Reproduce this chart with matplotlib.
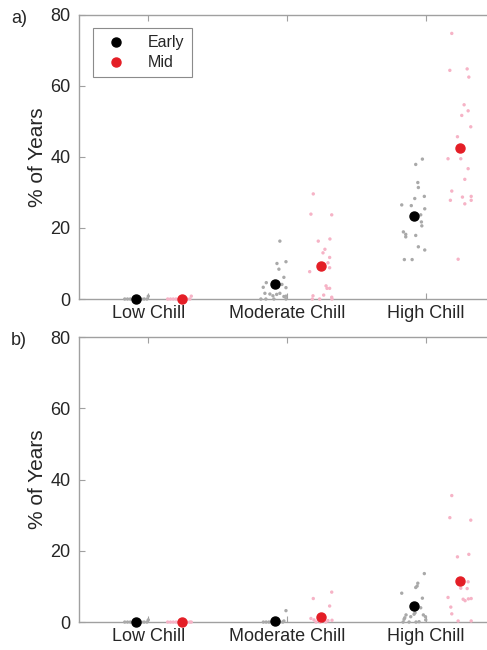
# -*- coding: utf-8 -*-
"""
plot.py
 - % of Years per chill class : Early vs Mid, two panels a) / b)
"""

import matplotlib
matplotlib.use('Agg')
import matplotlib.pyplot as plt
import numpy as np

plt.rcParams['font.family'] = ['Liberation Sans', 'DejaVu Sans']

# 1. data
categories = ['Low Chill', 'Moderate Chill', 'High Chill']
yticks = [0, 20, 40, 60, 80]

# group means (big dots)
a_mean_early = [0, 4.2, 23.3]
a_mean_mid = [0, 9.4, 42.6]
b_mean_early = [0, 0.2, 4.4]
b_mean_mid = [0, 1.5, 11.6]

# small points : values and x jitter (in category units)
a_low_early = [0, 0, 0, 0, 0, 0, 0, 0, 0, 0.8]
a_low_early_dx = [-0.17, -0.15, -0.13, -0.11, -0.09, -0.07, -0.05, -0.03, -0.01, 0.0]
a_low_mid = [0, 0, 0, 0, 0, 0, 0, 0, 0, 0.8]
a_low_mid_dx = [0.14, 0.16, 0.18, 0.20, 0.22, 0.24, 0.26, 0.28, 0.30, 0.31]

a_mod_early = [16.3, 10.5, 10.0, 8.4, 6.1, 4.6, 4.1, 3.3, 3.2, 1.6,
               1.4, 1.3, 1.6, 0.9, 0.7, 0.8, 0, 0, 0, 0]
a_mod_early_dx = [-0.051, -0.007, -0.072, -0.058, -0.022, -0.149, -0.036, -0.171, -0.007, -0.159,
                  -0.123, -0.074, -0.051, -0.101, -0.022, -0.007, -0.152, -0.188, -0.094, -0.007]
a_mod_mid = [29.6, 23.9, 23.7, 16.9, 16.3, 14.0, 13.0, 11.7, 10.2, 8.8,
             7.7, 3.7, 3.0, 3.0, 0.9, 1.1, 0.5, 0, 0, 0]
a_mod_mid_dx = [0.190, 0.173, 0.323, 0.310, 0.226, 0.274, 0.260, 0.308, 0.296, 0.308,
                0.164, 0.282, 0.289, 0.308, 0.188, 0.265, 0.323, 0.236, 0.183, 0.325]

a_high_early = [39.4, 37.9, 32.8, 31.4, 28.9, 28.3, 26.5, 26.3, 25.4, 23.7,
                21.7, 20.6, 18.9, 18.2, 17.5, 17.9, 14.7, 13.8, 11.1, 11.1]
a_high_early_dx = [-0.023, -0.071, -0.056, -0.052, -0.009, -0.078, -0.172, -0.103, -0.006, -0.035,
                   -0.030, -0.027, -0.160, -0.143, -0.143, -0.071, -0.052, -0.006, -0.153, -0.097]
a_high_mid = [74.8, 64.4, 64.8, 62.5, 54.7, 53.0, 51.7, 48.5, 45.7, 39.5,
              39.5, 36.7, 33.7, 30.4, 28.7, 28.9, 27.8, 27.8, 26.8, 11.2]
a_high_mid_dx = [0.189, 0.175, 0.300, 0.312, 0.278, 0.307, 0.261, 0.326, 0.230, 0.162,
                 0.254, 0.307, 0.283, 0.189, 0.266, 0.329, 0.179, 0.329, 0.283, 0.235]

b_low_early = [0, 0, 0, 0, 0, 0, 0, 0, 0, 0.6]
b_low_early_dx = [-0.17, -0.15, -0.13, -0.11, -0.09, -0.07, -0.05, -0.03, -0.01, 0.0]
b_low_mid = [0, 0, 0, 0, 0, 0, 0, 0, 0, 0]
b_low_mid_dx = [0.14, 0.16, 0.18, 0.20, 0.22, 0.24, 0.26, 0.28, 0.30, 0.31]

b_mod_early = [3.2, 0.3, 0, 0, 0, 0, 0, 0, 0, 0]
b_mod_early_dx = [-0.007, -0.022, -0.17, -0.15, -0.13, -0.11, -0.09, -0.07, -0.05, -0.03]
b_mod_mid = [8.4, 6.6, 4.5, 1.0, 0.6, 0.8, 0.4, 0.5, 0, 0, 0]
b_mod_mid_dx = [0.323, 0.190, 0.308, 0.173, 0.195, 0.260, 0.296, 0.325, 0.21, 0.24, 0.28]

b_high_early = [13.6, 10.9, 10.1, 9.7, 8.1, 6.7, 4.0, 2.6, 2.2, 2.0,
                1.2, 0.8, 1.5, 2.0, 1.5, 0.1, 0.6, 0, 0, 0]
b_high_early_dx = [-0.009, -0.056, -0.061, -0.071, -0.172, -0.023, -0.035, -0.076, -0.083, -0.141,
                   -0.150, -0.155, -0.107, -0.016, -0.001, -0.047, 0.001, -0.119, -0.162, -0.069]
b_high_mid = [35.5, 29.3, 28.6, 19.0, 18.3, 11.3, 9.5, 9.4, 6.9, 6.4,
              6.0, 6.5, 6.6, 4.2, 2.3, 0.3, 0.3, 12.0]
b_high_mid_dx = [0.189, 0.175, 0.326, 0.312, 0.230, 0.307, 0.254, 0.300, 0.162, 0.271,
                 0.285, 0.309, 0.329, 0.182, 0.189, 0.235, 0.329, 0.249]

# colours
c_early = 'black'
c_mid = '#e41e26'
c_early_pt = '#a9a9a9'
c_mid_pt = '#f6b3c6'
c_axis = '#a0a0a0'
c_text = '#262626'

early_off = -0.087  # x offset of the Early mean
mid_off = 0.245     # x offset of the Mid mean


# 2. one panel
def draw_panel(ax, early_pts, mid_pts, mean_early, mean_mid, show_legend=False):
    xpos = np.arange(1, len(categories) + 1)

    for i, (y, dx) in enumerate(early_pts):
        ax.scatter(xpos[i] + np.array(dx), y, s=6, color=c_early_pt,
                   edgecolors='none', zorder=3, clip_on=False)
    for i, (y, dx) in enumerate(mid_pts):
        ax.scatter(xpos[i] + np.array(dx), y, s=6, color=c_mid_pt,
                   edgecolors='none', zorder=3, clip_on=False)

    ax.plot(xpos + early_off, mean_early, 'o', ms=6.5, color=c_early,
            label='Early', zorder=4, clip_on=False)
    ax.plot(xpos + mid_off, mean_mid, 'o', ms=6.5, color=c_mid,
            label='Mid', zorder=4, clip_on=False)

    ax.set_xlim(0.5, 3.5)
    ax.set_ylim(0, 80)
    ax.set_xticks(xpos)
    ax.set_xticklabels(categories)
    ax.set_yticks(yticks)
    ax.set_ylabel('% of Years', fontsize=15, color=c_text)
    ax.yaxis.set_label_coords(-0.078, 0.5)

    for s in ax.spines.values():
        s.set_color(c_axis)
        s.set_linewidth(1.0)
    ax.tick_params(direction='in', top=True, right=True, length=4,
                   width=0.8, color=c_axis, labelcolor=c_text, labelsize=13)
    ax.tick_params(axis='y', pad=6)
    ax.tick_params(axis='x', pad=4)

    if show_legend:
        leg = ax.legend(loc='upper left', bbox_to_anchor=(0.033, 0.953),
                        fontsize=11.5, frameon=True, fancybox=False,
                        handletextpad=1.0, borderpad=0.45, labelspacing=0.3,
                        handlelength=2.0, borderaxespad=0)
        leg.get_frame().set_edgecolor('#6e6e6e')
        leg.get_frame().set_linewidth(0.8)
        for t in leg.get_texts():
            t.set_color(c_text)


# 3. figure
fig = plt.figure(figsize=(4.87, 6.5), dpi=100)
ax1 = fig.add_axes([0.1622, 0.540, 0.854, 0.437])
ax2 = fig.add_axes([0.1622, 0.043, 0.854, 0.4385])

draw_panel(ax1,
           [(a_low_early, a_low_early_dx), (a_mod_early, a_mod_early_dx), (a_high_early, a_high_early_dx)],
           [(a_low_mid, a_low_mid_dx), (a_mod_mid, a_mod_mid_dx), (a_high_mid, a_high_mid_dx)],
           a_mean_early, a_mean_mid, show_legend=True)
draw_panel(ax2,
           [(b_low_early, b_low_early_dx), (b_mod_early, b_mod_early_dx), (b_high_early, b_high_early_dx)],
           [(b_low_mid, b_low_mid_dx), (b_mod_mid, b_mod_mid_dx), (b_high_mid, b_high_mid_dx)],
           b_mean_early, b_mean_mid)

fig.text(11 / 487, 1 - 10 / 650, 'a)', fontsize=13, color=c_text, ha='left', va='top')
fig.text(11 / 487, 1 - 332 / 650, 'b)', fontsize=13, color=c_text, ha='left', va='top')

fig.savefig('out.png', dpi=100)
